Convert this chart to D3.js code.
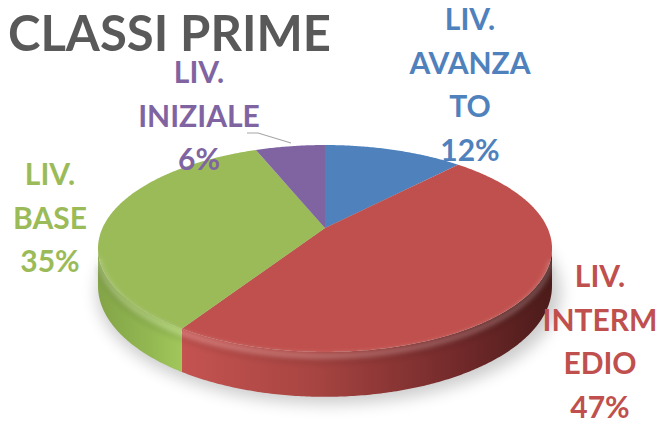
<!DOCTYPE html>
<html>
<head>
<meta charset="utf-8">
<script src="https://cdn.jsdelivr.net/npm/d3@7"></script>
<style>
  body { margin: 0; background: #fff; }
  text { font-family: Lato, "Open Sans", sans-serif; font-weight: bold; }
</style>
</head>
<body>
<div id="chart"></div>
<script>
// data
let categories = ["LIV. AVANZATO", "LIV. INTERMEDIO", "LIV. BASE", "LIV. INIZIALE"]
let values = [12, 47, 35, 6]
let labelLines = [["LIV.", "AVANZA", "TO"], ["LIV.", "INTERM", "EDIO"], ["LIV.", "BASE"], ["LIV.", "INIZIALE"]]
let colors = ["#4f81bd", "#c0504d", "#9bbb59", "#8064a2"]
let title = "CLASSI PRIME"

let width = 664, height = 422

// pie geometry: a disc seen in perspective
let apex = [325, 228]      // where the slices meet
let kx = 222.5, ky = 99.4  // horizontal / depth radius
let persp = 0.198          // how much the back shrinks
let thick = 36             // wall height

// where the data labels sit (centre x, first baseline)
let labelPos = [[470, 30], [600, 287], [50, 185], [199, 83]]
let lineStep = 43.5

let svg = d3.select("#chart").append("svg")
    .attr("width", width)
    .attr("height", height)

let defs = svg.append("defs")

defs.append("filter").attr("id", "blur")
    .attr("x", "-20%").attr("y", "-20%").attr("width", "140%").attr("height", "140%")
  .append("feGaussianBlur").attr("stdDeviation", 8)

defs.append("filter").attr("id", "soft")
    .append("feGaussianBlur").attr("stdDeviation", 2.5)

// side gradients
let redSide = defs.append("linearGradient").attr("id", "side1")
    .attr("gradientUnits", "userSpaceOnUse")
    .attr("x1", 182).attr("x2", 552).attr("y1", 0).attr("y2", 0)
redSide.selectAll("stop")
  .data([[0, "#c45350"], [0.35, "#a84542"], [0.75, "#72292a"], [1, "#4b1b1a"]])
  .enter().append("stop")
  .attr("offset", d => d[0])
  .attr("stop-color", d => d[1])

let greenSide = defs.append("linearGradient").attr("id", "side2")
    .attr("gradientUnits", "userSpaceOnUse")
    .attr("x1", 98).attr("x2", 185).attr("y1", 0).attr("y2", 0)
greenSide.selectAll("stop")
  .data([[0, "#83a447"], [0.6, "#93b852"], [1, "#a2c95c"]])
  .enter().append("stop")
  .attr("offset", d => d[0])
  .attr("stop-color", d => d[1])

let pie = d3.pie().sort(null).value(d => d)
let arcs = pie(values)

// project a rim angle (0 = back, clockwise) to the screen
let P = (a, low = false) => {
  let w = 1 + persp * Math.cos(a)
  let x = apex[0] + kx * Math.sin(a) / w
  let y = apex[1] - ky * Math.cos(a) / w
  return [x, low ? y + thick / w : y]
}
let rim = (a0, a1, low = false) => {
  let n = Math.max(2, Math.ceil((a1 - a0) / 0.01))
  return d3.range(n + 1).map(i => P(a0 + (a1 - a0) * i / n, low))
}
let line = d3.line()

// visible wall runs between the two silhouette angles
let wallFrom = Math.acos(-persp), wallTo = 2 * Math.PI - Math.acos(-persp)

// shadow
svg.append("ellipse")
  .attr("cx", apex[0] + 4).attr("cy", 292)
  .attr("rx", 232).attr("ry", 112)
  .attr("fill", "#000").attr("opacity", 0.2)
  .attr("filter", "url(#blur)")

function sidePath(a0, a1) {
  let s = Math.max(a0, wallFrom), e = Math.min(a1, wallTo)
  if (e <= s) return null
  return line(rim(s, e).concat(rim(s, e, true).reverse())) + "Z"
}

svg.append("g").selectAll("path")
  .data(arcs.filter(d => sidePath(d.startAngle, d.endAngle)))
  .enter().append("path")
  .attr("d", d => sidePath(d.startAngle, d.endAngle))
  .attr("fill", d => d.index === 1 ? "url(#side1)" : d.index === 2 ? "url(#side2)" : colors[d.index])

// top faces
svg.append("g").selectAll("path")
  .data(arcs)
  .enter().append("path")
  .attr("d", d => line([apex].concat(rim(d.startAngle, d.endAngle))) + "Z")
  .attr("fill", d => colors[d.index])

// rounded edge: light band on top, dark band under it
let shifted = (pts, dy) => pts.map(p => [p[0], p[1] + dy])
svg.append("path")
  .attr("d", line(shifted(rim(1.85, 4.45), 4)))
  .attr("fill", "none")
  .attr("stroke", "#fff")
  .attr("stroke-width", 5)
  .attr("opacity", 0.25)
  .attr("filter", "url(#soft)")
svg.append("path")
  .attr("d", line(shifted(rim(1.85, 4.45), 10)))
  .attr("fill", "none")
  .attr("stroke", "#000")
  .attr("stroke-width", 5)
  .attr("opacity", 0.07)
  .attr("filter", "url(#soft)")

// leader line for the small slice
svg.append("polyline")
  .attr("points", [[247, 133], [258, 133], [291, 143]].join(" "))
  .attr("fill", "none")
  .attr("stroke", "#a6a6a6")
  .attr("stroke-width", 1.2)

// data labels
let labels = svg.append("g").selectAll("text")
  .data(arcs)
  .enter().append("text")
  .attr("text-anchor", "middle")
  .attr("font-size", 30)
  .attr("fill", d => colors[d.index])

labels.selectAll("tspan")
  .data(d => labelLines[d.index].concat([d3.format(".0%")(d.value / d3.sum(values))]).map(t => [t, d.index]))
  .enter().append("tspan")
  .attr("x", d => labelPos[d[1]][0])
  .attr("y", (d, i) => labelPos[d[1]][1] + i * lineStep)
  .text(d => d[0])

// title
svg.append("text")
  .attr("x", 8)
  .attr("y", 51)
  .attr("font-size", 49)
  .attr("fill", "#595959")
  .text(title)
</script>
</body>
</html>
